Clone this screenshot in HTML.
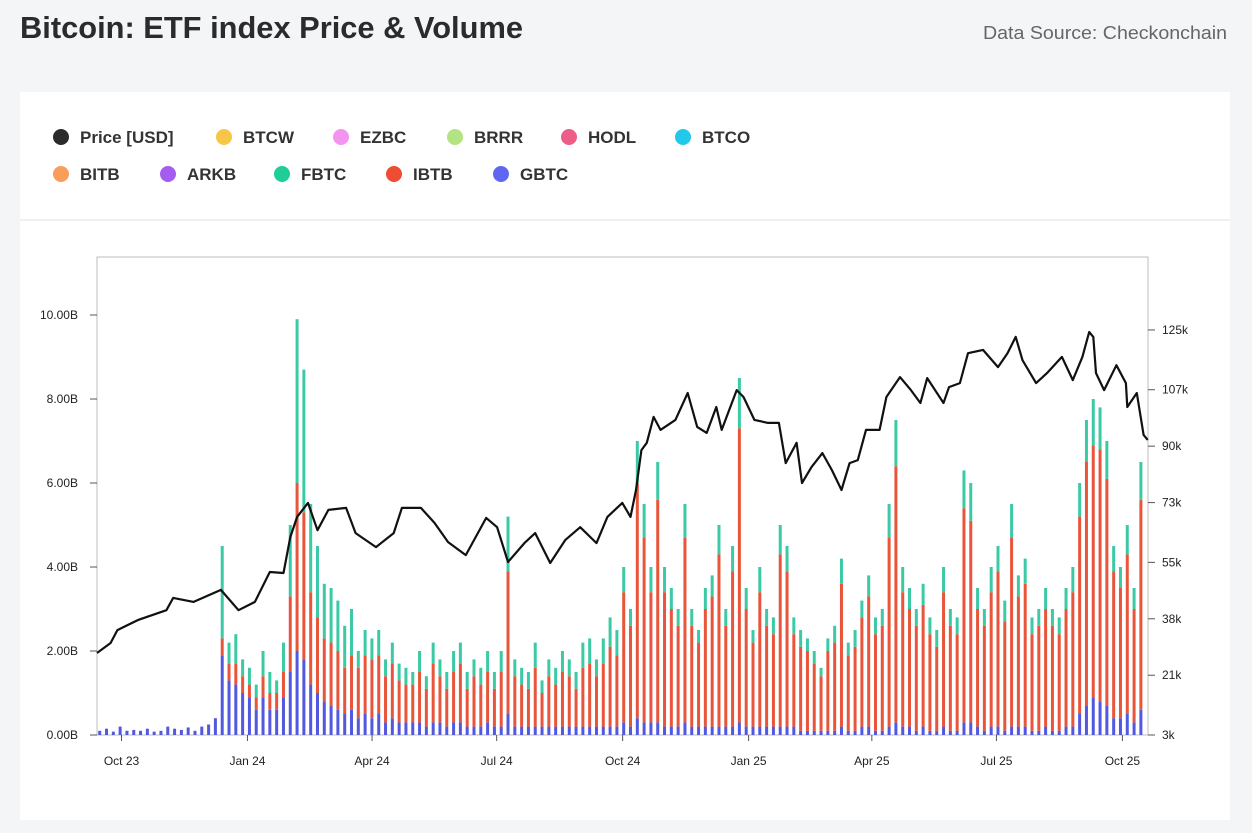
<!DOCTYPE html>
<html><head><meta charset="utf-8"><style>
html,body{margin:0;padding:0;background:#f4f5f7;}
svg{display:block;font-family:"Liberation Sans",sans-serif;}
</style></head><body>
<svg id="chart" width="1252" height="833" viewBox="0 0 1252 833" xmlns="http://www.w3.org/2000/svg">
<rect x="0" y="0" width="1252" height="833" fill="#f4f5f7"/>
<text x="20" y="38" font-size="31" font-weight="bold" fill="#2b2b2b" textLength="503" lengthAdjust="spacingAndGlyphs">Bitcoin: ETF index Price &amp; Volume</text>
<text x="1227" y="39" font-size="18" fill="#666" text-anchor="end" textLength="244" lengthAdjust="spacingAndGlyphs">Data Source: Checkonchain</text>
<rect x="20" y="92" width="1210" height="728" fill="#fff"/>
<line x1="20" y1="220" x2="1230" y2="220" stroke="#e2e2e2" stroke-width="1"/>
<g id="legend"></g>
<rect x="97" y="257" width="1051" height="478" fill="none" stroke="#bdbdbd" stroke-width="1"/>
<g id="bars"></g>
<g id="price"></g>
<g id="axes"></g>
</svg>
<script>
// ---- data ----
const legendLabels = ["Price [USD]","BTCW","EZBC","BRRR","HODL","BTCO","BITB","ARKB","FBTC","IBTB","GBTC"];
const legendColors = ["#2b2b2b","#f7c548","#f594f0","#b3e383","#ee5c88","#22c8e9","#fb9d5a","#a55cf0","#1fcd98","#ee4d33","#5f66f2"];
const volTickValues = [0,2,4,6,8,10];
const volTickLabels = ["0.00B","2.00B","4.00B","6.00B","8.00B","10.00B"];
const priceTickValues = [3,21,38,55,73,90,107,125];
const priceTickLabels = ["3k","21k","38k","55k","73k","90k","107k","125k"];
const dateTickDays = [18,110,201,292,384,476,566,657,749];
const dateTickLabels = ["Oct 23","Jan 24","Apr 24","Jul 24","Oct 24","Jan 25","Apr 25","Jul 25","Oct 25"];
const priceDays = [0,10,15,30,51,56,71,91,104,116,127,137,142,147,155,162,170,183,190,205,218,224,238,248,258,271,286,294,302,314,322,333,344,355,367,375,386,392,396,400,404,409,414,425,434,441,448,455,459,470,475,483,493,501,506,514,518,525,533,540,547,553,559,565,575,580,590,598,605,610,622,626,634,640,651,662,669,675,680,690,698,709,717,724,729,732,734,740,749,756,757,764,769,772];
const priceValues = [27.7,30.7,34.6,37.6,40.6,44.3,43.1,46.7,40.6,43.1,52.1,51.8,62.6,68.7,72.9,64.7,70.8,71.4,63.8,59.6,63.8,71.4,71.4,66.9,61.1,57.2,68.4,65.6,55.1,60.8,63.8,54.8,61.7,65.6,60.8,68.7,72.9,68.7,76.8,88.8,91,98.8,94.9,97.9,106,95.8,94,101.8,94.9,106.9,104.8,97.9,97,97,84.9,91,78.9,83.7,87.9,82.8,76.8,84.9,85.8,94.9,94.9,104.8,110.8,106.9,103,110.5,103,107.8,109,118,119,113.8,118,122.9,115.9,109,112,116.9,109.9,116.9,124.4,122.9,112,106.9,114.4,109,101.8,106,93.4,91.9];
// volume in billions, one bar per 5 days starting day 2
const volTotal = [0.1,0.15,0.08,0.2,0.1,0.12,0.1,0.15,0.08,0.1,0.2,0.15,0.12,0.18,0.1,0.2,0.25,0.4,
4.5,2.2,2.4,1.8,1.6,1.2,2.0,1.5,1.3,2.2,
5.0,9.9,8.7,5.5,4.5,3.6,3.5,3.2,2.6,3.0,
2.0,2.5,2.3,2.5,1.8,2.2,1.7,1.6,1.5,2.0,
1.4,2.2,1.8,1.5,2.0,2.2,1.5,1.8,1.6,2.0,
1.5,2.0,5.2,1.8,1.6,1.5,2.2,1.3,1.8,1.6,
2.0,1.8,1.5,2.2,2.3,1.8,2.3,2.8,2.5,4.0,
3.0,7.0,5.5,4.0,6.5,4.0,3.5,3.0,5.5,3.0,
2.5,3.5,3.8,5.0,3.0,4.5,8.5,3.5,2.5,4.0,
3.0,2.8,5.0,4.5,2.8,2.5,2.3,2.0,1.6,2.3,
2.6,4.2,2.2,2.5,3.2,3.8,2.8,3.0,5.5,7.5,
4.0,3.5,3.0,3.6,2.8,2.5,4.0,3.0,2.8,6.3,
6.0,3.5,3.0,4.0,4.5,3.2,5.5,3.8,4.2,2.8,
3.0,3.5,3.0,2.8,3.5,4.0,6.0,7.5,8.0,7.8,
7.0,4.5,4.0,5.0,3.5,6.5];
const volGBTC = [0.1,0.15,0.08,0.2,0.1,0.12,0.1,0.15,0.08,0.1,0.2,0.15,0.12,0.18,0.1,0.2,0.25,0.4,
1.9,1.3,1.2,1.0,0.9,0.6,0.9,0.6,0.6,0.9,
1.5,2.0,1.8,1.2,1.0,0.8,0.7,0.6,0.5,0.6,
0.4,0.5,0.4,0.5,0.3,0.4,0.3,0.3,0.3,0.3,
0.2,0.3,0.3,0.2,0.3,0.3,0.2,0.2,0.2,0.3,
0.2,0.2,0.5,0.2,0.2,0.2,0.2,0.2,0.2,0.2,
0.2,0.2,0.2,0.2,0.2,0.2,0.2,0.2,0.2,0.3,
0.2,0.4,0.3,0.3,0.3,0.2,0.2,0.2,0.3,0.2,
0.2,0.2,0.2,0.2,0.2,0.2,0.3,0.2,0.2,0.2,
0.2,0.2,0.2,0.2,0.2,0.1,0.1,0.1,0.1,0.1,
0.1,0.2,0.1,0.1,0.2,0.2,0.1,0.1,0.2,0.3,
0.2,0.2,0.1,0.2,0.1,0.1,0.2,0.1,0.1,0.3,
0.3,0.2,0.1,0.2,0.2,0.1,0.2,0.2,0.2,0.1,
0.1,0.2,0.1,0.1,0.2,0.2,0.5,0.7,0.9,0.8,
0.7,0.4,0.4,0.5,0.3,0.6];
const volIBIT = [0,0,0,0,0,0,0,0,0,0,0,0,0,0,0,0,0,0,
0.4,0.4,0.5,0.4,0.3,0.3,0.5,0.4,0.4,0.6,
1.8,4.0,3.5,2.2,1.8,1.5,1.5,1.4,1.1,1.3,
1.2,1.4,1.4,1.4,1.1,1.3,1.0,0.9,0.9,1.2,
0.9,1.4,1.1,0.9,1.2,1.4,0.9,1.2,1.0,1.2,
0.9,1.3,3.4,1.2,1.0,0.9,1.4,0.8,1.2,1.0,
1.3,1.2,0.9,1.4,1.5,1.2,1.5,1.9,1.7,3.1,
2.4,5.6,4.4,3.1,5.3,3.2,2.8,2.4,4.4,2.4,
2.0,2.8,3.1,4.1,2.4,3.7,7.0,2.8,2.0,3.2,
2.4,2.2,4.1,3.7,2.2,2.0,1.9,1.6,1.3,1.9,
2.1,3.4,1.8,2.0,2.6,3.1,2.3,2.5,4.5,6.1,
3.2,2.8,2.5,2.9,2.3,2.0,3.2,2.5,2.3,5.1,
4.8,2.8,2.5,3.2,3.7,2.6,4.5,3.1,3.4,2.3,
2.5,2.8,2.5,2.3,2.8,3.2,4.7,5.8,6.0,6.0,
5.4,3.5,3.1,3.8,2.7,5.0];
const barStartDay = 2, barStepDays = 5;

// ---- scales ----
const NS = "http://www.w3.org/2000/svg";
const X0 = 97, X1 = 1148, YB = 735;
const xDay = d => X0 + d * 1.361;
const yVol = v => YB - v * 42;
const yPrice = p => YB - (p - 3) * 3.32;
function mk(tag, attrs, parent){ const e=document.createElementNS(NS,tag); for(const k in attrs) e.setAttribute(k, attrs[k]); parent.appendChild(e); return e; }

// legend
const lg = document.getElementById('legend');
const row1X = [61,224,341,455,569,683], row2X = [61,168,282,394,501];
legendLabels.forEach((lab,i)=>{
  const r = i<6?0:1, cx = r===0?row1X[i]:row2X[i-6], cy = r===0?137:174;
  const g = mk('g',{},lg);
  
  
  mk('circle',{cx:cx,cy:cy,r:8,fill:legendColors[i]},g);
  const t = mk('text',{x:cx+19,y:cy+6,'font-size':17,'font-weight':'bold',fill:'#333'},g);
  t.textContent = lab;
});

// bars
const bg = document.getElementById('bars');
volTotal.forEach((tot,i)=>{
  const cx = xDay(barStartDay + i*barStepDays), w = 3, x = cx - w/2;
  const g = mk('g',{},bg);
  
  
  const gb = volGBTC[i], ib = volIBIT[i], rest = Math.max(0, tot - gb - ib);
  mk('rect',{x:x,y:yVol(gb),width:w,height:YB-yVol(gb),fill:'#5258e0'},g);
  mk('rect',{x:x,y:yVol(gb+ib),width:w,height:yVol(gb)-yVol(gb+ib),fill:'#e9553a'},g);
  mk('rect',{x:x,y:yVol(gb+ib+rest),width:w,height:yVol(gb+ib)-yVol(gb+ib+rest),fill:'#3ccaa6'},g);
});

// price line
const pg = document.getElementById('price');
const pts = priceDays.map((d,i)=>xDay(d).toFixed(1)+','+yPrice(priceValues[i]).toFixed(1)).join(' ');
const pl = mk('polyline',{points:pts,fill:'none',stroke:'#111','stroke-width':2.2,'stroke-linejoin':'round'},pg);



// axes
const ax = document.getElementById('axes');
volTickValues.forEach((v,i)=>{
  const y = yVol(v);
  mk('line',{x1:90,x2:97,y1:y,y2:y,stroke:'#555'},ax);
  const t = mk('text',{x:78,y:y+4,'font-size':12,fill:'#222','text-anchor':'end'},ax);
  
  
  t.textContent = volTickLabels[i];
});
priceTickValues.forEach((v,i)=>{
  const y = yPrice(v);
  mk('line',{x1:1148,x2:1155,y1:y,y2:y,stroke:'#555'},ax);
  const t = mk('text',{x:1162,y:y+4,'font-size':12,fill:'#222'},ax);
  
  
  t.textContent = priceTickLabels[i];
});
dateTickDays.forEach((d,i)=>{
  const x = xDay(d) + (i/8)*6;
  mk('line',{x1:x,x2:x,y1:735,y2:741,stroke:'#555'},ax);
  const t = mk('text',{x:x,y:765,'font-size':12,fill:'#222','text-anchor':'middle'},ax);
  
  
  t.textContent = dateTickLabels[i];
});
</script>
</body></html>
